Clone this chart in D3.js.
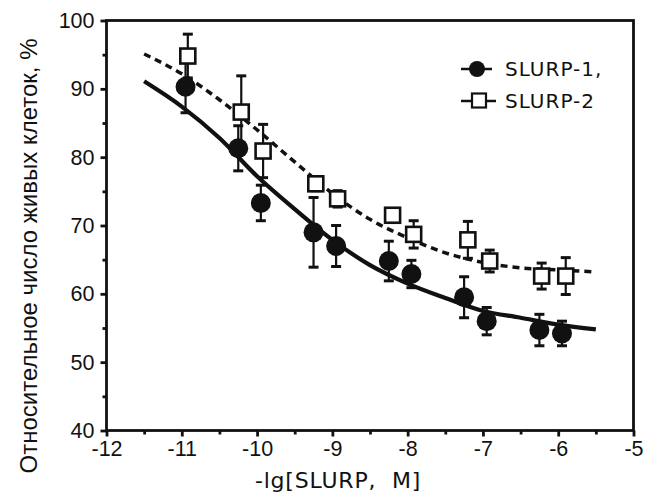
<!DOCTYPE html>
<html>
<head>
<meta charset="utf-8">
<script src="https://cdn.jsdelivr.net/npm/d3@7"></script>
<style>
  body { margin: 0; background: #fff; }
  svg { display: block; }
</style>
</head>
<body>
<div id="chart"></div>
<script>
// values
const slurp1X = [-10.95, -10.25, -9.95, -9.25, -8.95, -8.25, -7.95, -7.25, -6.95, -6.25, -5.95];
const slurp1Y = [90.3, 81.3, 73.3, 69.0, 67.0, 64.8, 62.9, 59.5, 56.0, 54.7, 54.2];
const slurp1Err = [3.8, 3.3, 2.6, 5.1, 3.0, 2.9, 2.0, 3.0, 2.0, 2.3, 1.8];

const slurp2X = [-10.92, -10.21, -9.92, -9.22, -8.93, -8.2, -7.92, -7.2, -6.91, -6.22, -5.9];
const slurp2Y = [94.8, 86.6, 80.9, 76.1, 73.9, 71.5, 68.7, 67.9, 64.8, 62.6, 62.6];
const slurp2Err = [3.2, 5.3, 3.9, 1.0, 1.2, 0.8, 2.0, 2.7, 1.6, 1.9, 2.7];

// fitted curves
const fitX = [-11.5, -11, -10.5, -10, -9.5, -9, -8.5, -8, -7.5, -7, -6.5, -6, -5.5];
const fit1Y = [91.1, 87.4, 82.8, 77.2, 72.4, 67.9, 64.2, 61.5, 59.4, 57.5, 56.5, 55.5, 54.8];
const fit2Y = [95.1, 92.2, 88.4, 84.0, 79.3, 74.7, 70.9, 68.2, 66.0, 64.6, 63.8, 63.5, 63.2];

const xTicks = [-12, -11, -10, -9, -8, -7, -6, -5];
const yTicks = [40, 50, 60, 70, 80, 90, 100];

const W = 647, H = 493;
const margin = {left: 106.5, right: 13.5, top: 20.5, bottom: 62.5};

const svg = d3.select("#chart").append("svg")
    .attr("width", W)
    .attr("height", H);

const x = d3.scaleLinear().domain([-12, -5]).range([margin.left, W - margin.right]);
const y = d3.scaleLinear().domain([40, 100]).range([H - margin.bottom, margin.top]);

const tickFont = "'Liberation Sans', Arial, sans-serif";
const labelFont = "'DejaVu Sans', sans-serif";

// minor ticks
const xMinor = d3.range(-11.5, -5, 1);
const yMinor = d3.range(45, 100, 10);

const xAxis = svg.append("g")
    .attr("transform", `translate(0,${y(40)})`)
    .call(d3.axisBottom(x).tickValues(xTicks).tickSize(6).tickPadding(4).tickFormat(d3.format("d")));
svg.append("g")
    .attr("transform", `translate(0,${y(40)})`)
    .call(d3.axisBottom(x).tickValues(xMinor).tickSize(4).tickFormat(""));

const yAxis = svg.append("g")
    .attr("transform", `translate(${x(-12)},0)`)
    .call(d3.axisLeft(y).tickValues(yTicks).tickSize(6).tickPadding(6));
svg.append("g")
    .attr("transform", `translate(${x(-12)},0)`)
    .call(d3.axisLeft(y).tickValues(yMinor).tickSize(4).tickFormat(""));

svg.selectAll(".domain").remove();
svg.selectAll(".tick line").attr("stroke", "#111").attr("stroke-width", 2.8);
svg.selectAll(".tick text")
    .attr("fill", "#111")
    .style("font-family", tickFont)
    .style("font-size", "21.5px");
xAxis.selectAll(".tick text").text(d => d < 0 ? "-" + Math.abs(d) : d);

// frame
svg.append("rect")
    .attr("x", x(-12)).attr("y", y(100))
    .attr("width", x(-5) - x(-12)).attr("height", y(40) - y(100))
    .attr("fill", "none").attr("stroke", "#111").attr("stroke-width", 2.8);

// curves
const line = d3.line().curve(d3.curveMonotoneX).x(d => x(d[0])).y(d => y(d[1]));

svg.append("path")
    .datum(fitX.map((v, i) => [v, fit2Y[i]]))
    .attr("d", line)
    .attr("fill", "none").attr("stroke", "#111")
    .attr("stroke-width", 3.5).attr("stroke-dasharray", "7,5");

svg.append("path")
    .datum(fitX.map((v, i) => [v, fit1Y[i]]))
    .attr("d", line)
    .attr("fill", "none").attr("stroke", "#111")
    .attr("stroke-width", 4.2);

// error bars
function errorBars(xs, ys, es) {
    const g = svg.append("g").attr("stroke", "#111");
    xs.forEach((v, i) => {
        const cx = x(v);
        const top = y(ys[i] + es[i]);
        const bot = y(ys[i] - es[i]);
        g.append("line").attr("x1", cx).attr("x2", cx).attr("y1", top).attr("y2", bot).attr("stroke-width", 2.2);
        g.append("line").attr("x1", cx - 5).attr("x2", cx + 5).attr("y1", top).attr("y2", top).attr("stroke-width", 3);
        g.append("line").attr("x1", cx - 5).attr("x2", cx + 5).attr("y1", bot).attr("y2", bot).attr("stroke-width", 3);
    });
}
errorBars(slurp1X, slurp1Y, slurp1Err);
errorBars(slurp2X, slurp2Y, slurp2Err);

// markers
svg.append("g").selectAll("rect")
    .data(slurp2X.map((v, i) => [v, slurp2Y[i]]))
    .join("rect")
    .attr("x", d => x(d[0]) - 7.5).attr("y", d => y(d[1]) - 7.5)
    .attr("width", 15).attr("height", 15)
    .attr("fill", "#fff").attr("stroke", "#111").attr("stroke-width", 2.6);

svg.append("g").selectAll("circle")
    .data(slurp1X.map((v, i) => [v, slurp1Y[i]]))
    .join("circle")
    .attr("cx", d => x(d[0])).attr("cy", d => y(d[1]))
    .attr("r", 10)
    .attr("fill", "#111");

// legend
const leg = svg.append("g");
leg.append("line").attr("x1", 461).attr("x2", 492).attr("y1", 69).attr("y2", 69)
    .attr("stroke", "#111").attr("stroke-width", 2.5);
leg.append("circle").attr("cx", 477).attr("cy", 69).attr("r", 8).attr("fill", "#111");
leg.append("text").attr("x", 505).attr("y", 76).text("SLURP-1,");

leg.append("line").attr("x1", 461).attr("x2", 496).attr("y1", 101).attr("y2", 101)
    .attr("stroke", "#111").attr("stroke-width", 2.5);
leg.append("rect").attr("x", 472).attr("y", 93.5).attr("width", 14).attr("height", 14)
    .attr("fill", "#fff").attr("stroke", "#111").attr("stroke-width", 2.2);
leg.append("text").attr("x", 505).attr("y", 108).text("SLURP-2");
leg.selectAll("text")
    .attr("fill", "#111")
    .style("font-family", labelFont)
    .style("font-size", "20px")
    .style("letter-spacing", "1px");

// axis titles
svg.append("text")
    .attr("x", 338).attr("y", 488)
    .attr("text-anchor", "middle")
    .attr("fill", "#111")
    .style("font-family", labelFont)
    .style("font-size", "22px")
    .style("letter-spacing", "0.8px")
    .style("white-space", "pre")
    .text("-lg[SLURP,  M]");

svg.append("text")
    .attr("transform", "translate(37,256) rotate(-90)")
    .attr("text-anchor", "middle")
    .attr("fill", "#111")
    .style("font-family", tickFont)
    .style("font-size", "24px")
    .text("Относительное число живых клеток, %");
</script>
</body>
</html>
